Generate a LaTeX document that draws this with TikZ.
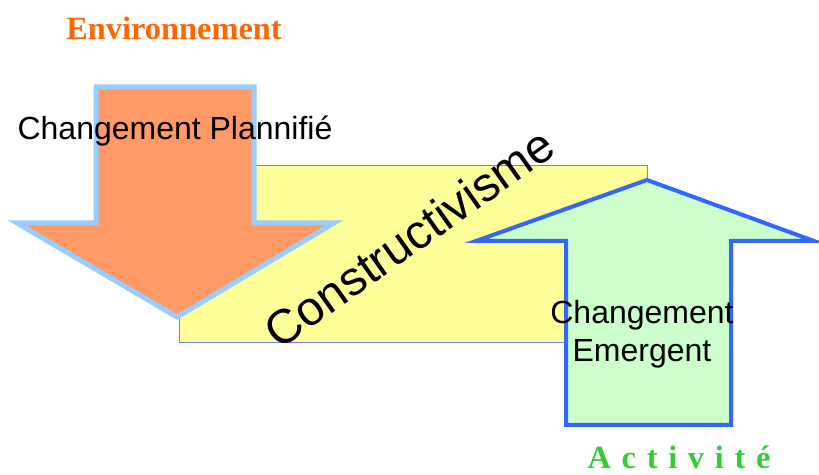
\documentclass[tikz,border=0pt]{standalone}
\usepackage{fontspec}
\setmainfont{Liberation Serif}
\setsansfont{Liberation Sans}
\usepackage{tikz}
\definecolor{arrorange}{HTML}{FF9966}
\definecolor{arrlightblue}{HTML}{99CCFF}
\definecolor{boxyellow}{HTML}{FFFF99}
\definecolor{boxline}{HTML}{6688EE}
\definecolor{arrgreen}{HTML}{CCFFCC}
\definecolor{arrblue}{HTML}{3366FF}
\definecolor{txtorange}{HTML}{FF6600}
\definecolor{txtgreen}{HTML}{33CC33}

\begin{document}
\begin{tikzpicture}[x=0.5pt,y=-0.5pt,
    label text/.style={font=\sffamily\fontsize{16}{19.2}\selectfont,inner sep=0pt},
    title text/.style={font=\rmfamily\bfseries\fontsize{16.2}{19.4}\selectfont,inner sep=0pt}]
      \useasboundingbox (0,0) rectangle (819,475);
      % fond jaune
      \fill[boxyellow,draw=boxline,line width=0.5pt] (179,166) rectangle (647,343);
      % fleche descendante
      \draw[fill=arrorange,draw=arrlightblue,line width=2.5pt,line join=miter]
        (96,87) -- (254,87) -- (254,223) -- (334,223) -- (177,317) -- (17,223) -- (96,223) -- cycle;
      % fleche montante
      \draw[fill=arrgreen,draw=arrblue,line width=2pt,line join=miter]
        (647,180) -- (814,241) -- (731,241) -- (731,425) -- (566,425) -- (566,241) -- (476,241) -- cycle;
      \node[title text,txtorange,anchor=base] (env) at (174,40) {Environnement};
      \node[label text,anchor=base] (plan) at (175,140) {Changement Plannifié};
      \node[label text,align=center] (emerg) at (642,334) {Changement\\Emergent};
      \node[font=\sffamily\fontsize{24}{28.8}\selectfont,inner sep=0pt,rotate=35.3] (constr) at (409,238) {Constructivisme};
      \node[title text,txtgreen,anchor=base] (activ) at (679,468) {\addfontfeatures{LetterSpace=33}Activité};
\end{tikzpicture}
\end{document}
